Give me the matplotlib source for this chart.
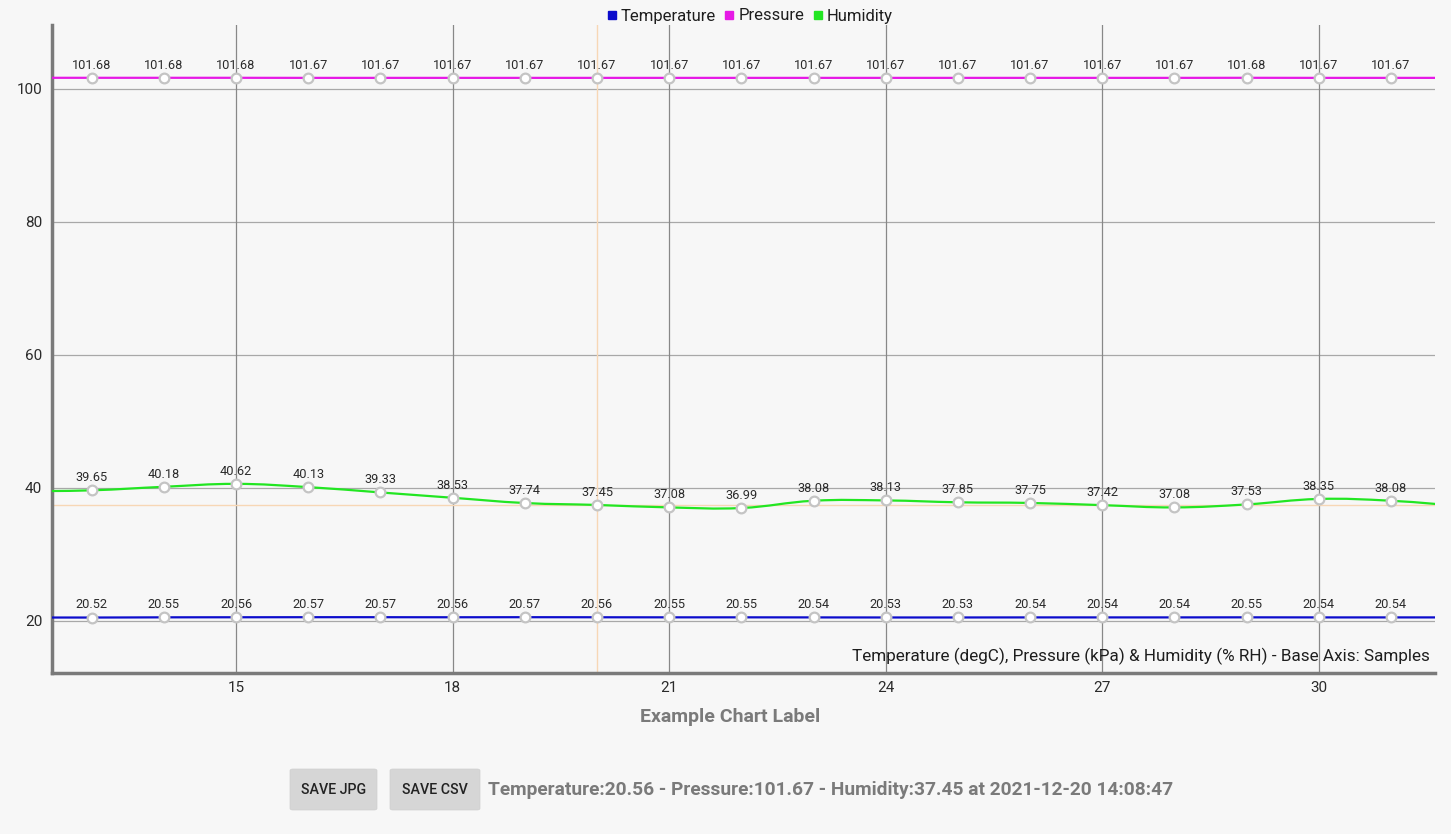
import matplotlib
matplotlib.use("Agg")
import matplotlib.pyplot as plt
from matplotlib.path import Path
from matplotlib.patches import PathPatch, FancyBboxPatch
import numpy as np

plt.rcParams['font.family'] = ['Roboto', 'DejaVu Sans']

# ---- data ----
samples = [12, 13, 14, 15, 16, 17, 18, 19, 20, 21, 22, 23, 24, 25, 26, 27, 28, 29, 30, 31, 32]
temperature = [20.53, 20.52, 20.55, 20.56, 20.57, 20.57, 20.56, 20.57, 20.56, 20.55, 20.55,
               20.54, 20.53, 20.53, 20.54, 20.54, 20.54, 20.55, 20.54, 20.54, 20.54]
pressure = [101.68, 101.68, 101.68, 101.68, 101.67, 101.67, 101.67, 101.67, 101.67, 101.67, 101.67,
            101.67, 101.67, 101.67, 101.67, 101.67, 101.67, 101.68, 101.67, 101.67, 101.67]
humidity = [39.5, 39.65, 40.18, 40.62, 40.13, 39.33, 38.53, 37.74, 37.45, 37.08, 36.99,
            38.08, 38.13, 37.85, 37.75, 37.42, 37.08, 37.53, 38.35, 38.08, 37.25]
x_ticks = [15, 18, 21, 24, 27, 30]
y_ticks = [20, 40, 60, 80, 100]
series_names = ["Temperature", "Pressure", "Humidity"]
highlight_x = 20
highlight_y = 37.45
axis_description = "Temperature (degC), Pressure (kPa) & Humidity (% RH) - Base Axis: Samples"
chart_label = "Example Chart Label"
status_text = "Temperature:20.56 - Pressure:101.67 - Humidity:37.45 at 2021-12-20 14:08:47"

colors = ["#0c0ccc", "#e619e6", "#22e622"]
bg = "#f7f7f7"

W, H = 1451, 834
fig = plt.figure(figsize=(W / 100, H / 100), dpi=100, facecolor=bg)
ax = fig.add_axes([52 / W, 1 - 673 / H, (1435 - 52) / W, (673 - 25) / H], facecolor=bg)
ax.set_xlim(12.45, 31.61)
ax.set_ylim(12.18, 109.62)


def cubic_path(xs, ys, intensity=0.2):
    n = len(xs)
    verts = [(xs[0], ys[0])]
    codes = [Path.MOVETO]
    for j in range(1, n):
        pp = max(j - 2, 0)
        p = j - 1
        c = j
        nx = min(j + 1, n - 1)
        pdx = (xs[c] - xs[pp]) * intensity
        pdy = (ys[c] - ys[pp]) * intensity
        cdx = (xs[nx] - xs[p]) * intensity
        cdy = (ys[nx] - ys[p]) * intensity
        verts += [(xs[p] + pdx, ys[p] + pdy), (xs[c] - cdx, ys[c] - cdy), (xs[c], ys[c])]
        codes += [Path.CURVE4] * 3
    return Path(verts, codes)


# grid
for yv in y_ticks:
    ax.axhline(yv, color="#a8a8a8", lw=0.9, zorder=1)
for xv in x_ticks:
    ax.axvline(xv, color="#888888", lw=0.9, zorder=1)

# highlight crosshair
ax.axvline(highlight_x, color="#f7d7b5", lw=1.0, zorder=2)
ax.axhline(highlight_y, color="#f7d7b5", lw=1.0, zorder=2)

for vals, col in zip([temperature, pressure, humidity], colors):
    patch = PathPatch(cubic_path(samples, vals), facecolor="none", edgecolor=col, lw=1.6, zorder=3)
    ax.add_patch(patch)
    ax.plot(samples, vals, linestyle="none", marker="o", markersize=7,
            markerfacecolor="white", markeredgecolor="#c4c4c4", markeredgewidth=1.6, zorder=4)
    for xv, yv in zip(samples, vals):
        ax.annotate(f"{yv:.2f}", (xv, yv), xytext=(0, 4.5), textcoords="offset points",
                    ha="center", va="bottom", fontsize=9.2, color="#2b2b2b",
                    annotation_clip=True, zorder=5)

# spines
for s in ["top", "right"]:
    ax.spines[s].set_visible(False)
for s in ["left", "bottom"]:
    ax.spines[s].set_color("#7a7a7a")
    ax.spines[s].set_linewidth(2.5)

ax.set_xticks(x_ticks)
ax.set_yticks(y_ticks)
ax.tick_params(axis="both", length=0, labelsize=11, labelcolor="#2b2b2b")
ax.tick_params(axis="x", pad=6)
ax.tick_params(axis="y", pad=7)

ax.text(0.996, 0.012, axis_description, transform=ax.transAxes, ha="right", va="bottom",
        fontsize=12.3, color="#1e1e1e")

# legend
handles = [plt.Line2D([], [], linestyle="none", marker="s", markersize=6, color=c) for c in colors]
leg = fig.legend(handles, series_names, loc="center", bbox_to_anchor=(748 / W, 1 - 16 / H),
                 ncol=3, frameon=False, fontsize=12, handletextpad=0.05, columnspacing=0.3,
                 handlelength=1.0, borderpad=0)
for t in leg.get_texts():
    t.set_color("#1e1e1e")

# chart label
fig.text(730 / W, 1 - 717 / H, chart_label, ha="center", va="center", fontsize=14,
         fontweight="bold", color="#7a7a7a")

# buttons
for (x0, x1, label) in [(290, 377, "SAVE JPG"), (390, 480, "SAVE CSV")]:
    b = FancyBboxPatch((x0 / W, 1 - 810 / H), (x1 - x0) / W, 41 / H,
                       boxstyle="round,pad=0,rounding_size=0.002", transform=fig.transFigure,
                       facecolor="#d6d6d6", edgecolor="#cfcfcf", lw=0.5)
    fig.patches.append(b)
    fig.text((x0 + x1) / 2 / W, 1 - 790 / H, label, ha="center", va="center", fontsize=10.3,
             fontweight="medium", color="#222222")

fig.text(488 / W, 1 - 790 / H, status_text, ha="left", va="center", fontsize=13.8,
         fontweight="bold", color="#7a7a7a")

fig.savefig("out.png", dpi=100, facecolor=bg)
